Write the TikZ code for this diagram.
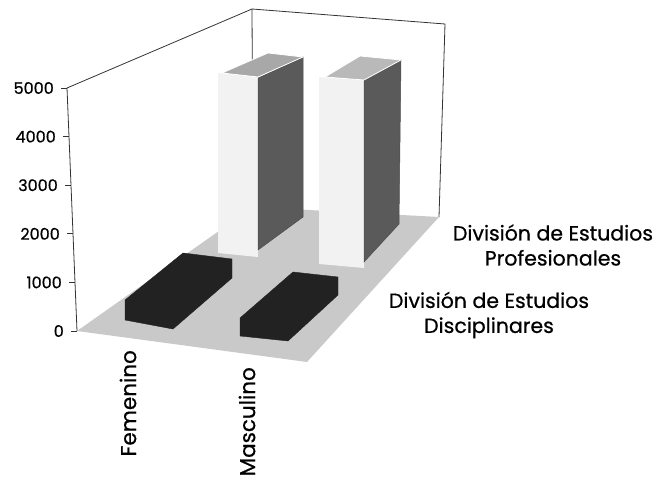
\documentclass[tikz,border=0pt]{standalone}
\usepackage{fontspec}
\setmainfont{Poppins}[FakeBold=0.6]
\usepackage{xcolor}
\usepackage{tikz}
\usetikzlibrary{positioning,calc}
\definecolor{floorgrey}{HTML}{C9C9C9}
\definecolor{facegrey}{HTML}{F2F2F2}
\definecolor{sidegrey}{HTML}{5A5A5A}
\definecolor{lidgrey}{HTML}{A8A8A8}
\definecolor{blockgrey}{HTML}{222222}

\begin{document}
\begin{tikzpicture}[
x=1pt,y=-1pt,
floor/.style={
  fill=floorgrey,
  draw=none
  },
wall/.style={
  draw=black!80,
  line width=0.8pt
  },
front/.style={
  fill=facegrey,
  draw=none
  },
side/.style={
  fill=sidegrey,
  draw=black!70,
  line width=0.5pt
  },
lid/.style={
  fill=lidgrey,
  draw=white,
  line width=0.8pt
  },
block/.style={
  fill=blockgrey,
  draw=blockgrey,
  line join=round
  },
ticklabel/.style={
  font=\fontsize{16}{16}\selectfont,
  inner sep=0pt
  },
series/.style={
  font=\fontsize{20.5}{25}\selectfont,
  align=center,
  inner sep=0pt
  },
category/.style={
  font=\fontsize{21.5}{22}\selectfont,
  rotate=90,
  anchor=east,
  inner sep=0pt
  }
]
\useasboundingbox (0,0) rectangle (661,481);
% floor and walls
\coordinate (axbot) at (77,331);
\coordinate (axtop) at (67,88);
\coordinate (backtop) at (252,9);
\coordinate (backbot) at (253,207);
\coordinate (righttop) at (445,24);
\coordinate (rightbot) at (439,217);
\coordinate (frontright) at (307,362);
\fill[floor] (axbot) -- (backbot) -- (rightbot) -- (frontright) -- cycle;
\draw[wall] (axbot) -- (axtop) -- (backtop) -- (righttop) -- (rightbot);
\draw[wall] (backtop) -- (backbot);
% value axis
\foreach \v in {0,1000,...,5000}
{
  \coordinate (y\v) at ($(axbot)!{\v/5000}!(axtop)$);
  \draw[wall] (y\v) -- ++(-6,0);
  \node[ticklabel, left=13pt of y\v] (l\v) {\v};
}
% Profesionales, Femenino
\fill[front] (218,73) -- (258,77) -- (258,257) -- (218,253) -- cycle;
\filldraw[side] (258,78) -- (303,57) -- (303,217) -- (258,250) -- cycle;
\filldraw[lid] (222,73) -- (258,77) -- (303,57) -- (268,53) -- cycle;
% Profesionales, Masculino
\fill[front] (319,77) -- (364,80) -- (364,268) -- (319,264) -- cycle;
\filldraw[side] (364,80) -- (401,60) -- (399,224) -- (364,262) -- cycle;
\filldraw[lid, fill=lidgrey!80] (325,77) -- (364,80) -- (401,60) -- (360,56) -- cycle;
% Disciplinares
\filldraw[block] (125,300) -- (183,253) -- (232,259) -- (232,278) -- (173,329) -- (125,320) -- cycle;
\filldraw[block] (240,318) -- (293,272) -- (338,277) -- (338,295) -- (288,341) -- (240,336) -- cycle;
% labels
\node[series] (prof) at (553,245) {División de Estudios\\Profesionales};
\node[series] (disc) at (489,315) {División de Estudios\\Disciplinares};
\node[category] (fem) at (128,350) {Femenino};
\node[category] (masc) at (247,367) {Masculino};
\end{tikzpicture}
\end{document}
